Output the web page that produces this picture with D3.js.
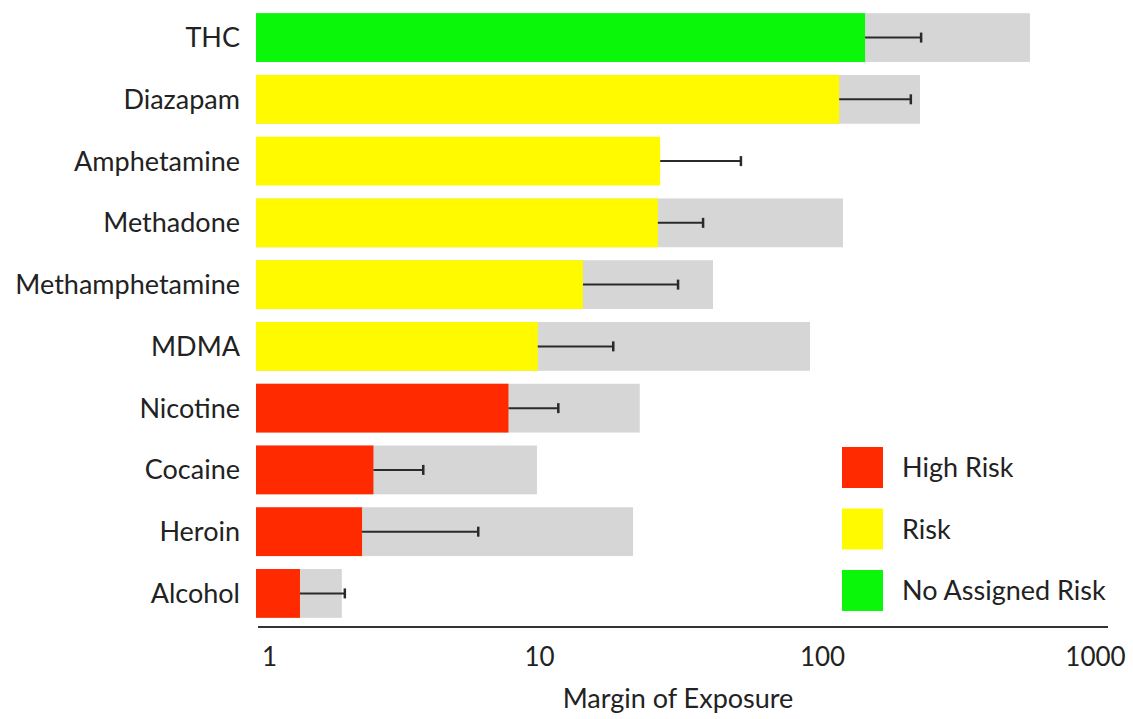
<!DOCTYPE html>
<html>
<head>
<meta charset="utf-8">
<script src="https://cdn.jsdelivr.net/npm/d3@7"></script>
<style>
  html, body { margin: 0; padding: 0; background: #fff; }
  svg { display: block; font-family: Lato, "Open Sans", sans-serif; }
</style>
</head>
<body>
<svg id="chart" width="1133" height="719"></svg>
<script>
// Margin of exposure per substance (log scale)
const substances = ["THC", "Diazapam", "Amphetamine", "Methadone", "Methamphetamine",
                    "MDMA", "Nicotine", "Cocaine", "Heroin", "Alcohol"];
const riskClass  = ["none", "risk", "risk", "risk", "risk",
                    "risk", "high", "high", "high", "high"];
const moeValues  = [142, 115, 26.8, 26.3, 14.3, 9.9, 7.8, 2.6, 2.37, 1.43];
const errorUpper = [224, 206, 51.7, 38, 31, 18.3, 11.7, 3.9, 6.1, 2.06];
const rangeUpper = [543, 222, null, 118.6, 41.2, 90.7, 22.7, 9.84, 21.5, 2.01];
const axisTicks  = [1, 10, 100, 1000];
const legendKeys = ["high", "risk", "none"];
const legendText = ["High Risk", "Risk", "No Assigned Risk"];

const colors = { high: "#ff2a00", risk: "#fffa00", none: "#0af70a" };
const fontSize = 27;

const svg = d3.select("#chart");

const x = d3.scaleLog().domain([1, 1000]).range([256, 1105]);
const y = d3.scaleBand().domain(substances).range([7, 624]).paddingInner(0.21).paddingOuter(0.1);

const rows = substances.map((name, i) => ({
  name, cls: riskClass[i], moe: moeValues[i], err: errorUpper[i], range: rangeUpper[i]
}));

// grey range bars behind
svg.append("g").selectAll("rect")
  .data(rows.filter(d => d.range != null))
  .join("rect")
  .attr("x", x(1))
  .attr("y", d => y(d.name))
  .attr("width", d => x(d.range) - x(1))
  .attr("height", y.bandwidth())
  .attr("fill", "#d6d6d6");

// coloured MOE bars
svg.append("g").selectAll("rect")
  .data(rows)
  .join("rect")
  .attr("x", x(1))
  .attr("y", d => y(d.name))
  .attr("width", d => x(d.moe) - x(1))
  .attr("height", y.bandwidth())
  .attr("fill", d => colors[d.cls]);

// error bars
const eb = svg.append("g").attr("stroke", "#2a2a2a").attr("stroke-width", 2);
eb.selectAll("line.h")
  .data(rows)
  .join("line")
  .attr("class", "h")
  .attr("x1", d => x(d.moe))
  .attr("x2", d => x(d.err))
  .attr("y1", d => y(d.name) + y.bandwidth() / 2)
  .attr("y2", d => y(d.name) + y.bandwidth() / 2);
eb.selectAll("line.c")
  .data(rows)
  .join("line")
  .attr("class", "c")
  .attr("stroke-width", 2.5)
  .attr("x1", d => x(d.err))
  .attr("x2", d => x(d.err))
  .attr("y1", d => y(d.name) + y.bandwidth() / 2 - 5)
  .attr("y2", d => y(d.name) + y.bandwidth() / 2 + 5);

// category labels
svg.append("g").selectAll("text")
  .data(substances)
  .join("text")
  .attr("x", 240)
  .attr("y", d => y(d) + y.bandwidth() / 2)
  .attr("dy", "0.35em")
  .attr("text-anchor", "end")
  .attr("font-size", fontSize)
  .attr("fill", "#222")
  .text(d => d);

// x axis
const axis = d3.axisBottom(x)
  .tickValues(axisTicks)
  .tickFormat(d3.format("d"))
  .tickSize(0)
  .tickPadding(21);
const gx = svg.append("g").attr("transform", "translate(0,627)").call(axis);
gx.select(".domain").attr("stroke", "#333").attr("stroke-width", 2).attr("d", "M258,0H1108");
gx.selectAll(".tick text")
  .attr("font-size", 26)
  .attr("font-family", "Lato, \"Open Sans\", sans-serif")
  .attr("fill", "#222");
// keep the end labels inside the plot edges
gx.selectAll(".tick").filter(d => d === 1).select("text").attr("dx", 13);
gx.selectAll(".tick").filter(d => d === 1000).select("text").attr("dx", -10);

svg.append("text")
  .attr("x", 678)
  .attr("y", 708)
  .attr("text-anchor", "middle")
  .attr("font-size", fontSize)
  .attr("fill", "#222")
  .text("Margin of Exposure");

// legend
const legend = svg.append("g").attr("transform", "translate(842,447)");
const items = legend.selectAll("g")
  .data(legendKeys)
  .join("g")
  .attr("transform", (d, i) => `translate(0,${i * 61.5})`);
items.append("rect")
  .attr("width", 41)
  .attr("height", 41)
  .attr("fill", d => colors[d]);
items.append("text")
  .attr("x", 60)
  .attr("y", 21)
  .attr("dy", "0.35em")
  .attr("font-size", fontSize)
  .attr("fill", "#222")
  .text((d, i) => legendText[i]);
</script>
</body>
</html>
